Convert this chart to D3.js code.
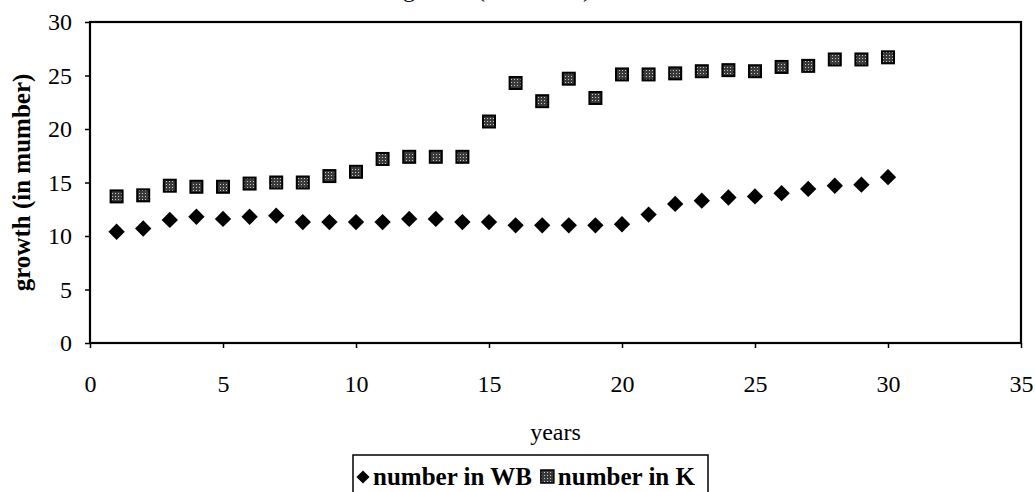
<!DOCTYPE html>
<html>
<head>
<meta charset="utf-8">
<script src="https://cdn.jsdelivr.net/npm/d3@7"></script>
<style>
  body { margin: 0; background: #fff; }
  svg { display: block; }
</style>
</head>
<body>
<div id="chart"></div>
<script>
// chart data
const years = [1, 2, 3, 4, 5, 6, 7, 8, 9, 10, 11, 12, 13, 14, 15,
               16, 17, 18, 19, 20, 21, 22, 23, 24, 25, 26, 27, 28, 29, 30];
const numberWB = [10.4, 10.7, 11.5, 11.8, 11.6, 11.8, 11.9, 11.3, 11.3, 11.3,
                  11.3, 11.6, 11.6, 11.3, 11.3, 11.0, 11.0, 11.0, 11.0, 11.1,
                  12.0, 13.0, 13.3, 13.6, 13.7, 14.0, 14.4, 14.7, 14.8, 15.5];
const numberK = [13.7, 13.8, 14.7, 14.6, 14.6, 14.9, 15.0, 15.0, 15.6, 16.0,
                 17.2, 17.4, 17.4, 17.4, 20.7, 24.3, 22.6, 24.7, 22.9, 25.1,
                 25.1, 25.2, 25.4, 25.5, 25.4, 25.8, 25.9, 26.5, 26.5, 26.7];
const xTicks = [0, 5, 10, 15, 20, 25, 30, 35];
const yTicks = [0, 5, 10, 15, 20, 25, 30];
const seriesNames = ["number in WB", "number in K"];

// size of the page and the plot box
const width = 1035;
const height = 492;
const margin = {left: 90, right: 14, top: 22, bottom: 149};
const serif = "'Liberation Serif', 'Times New Roman', serif";

const svg = d3.select("#chart")
  .append("svg")
  .attr("width", width)
  .attr("height", height)
  .attr("viewBox", [0, 0, width, height]);

// grey speckled fill for the squares
const pat = svg.append("defs").append("pattern")
  .attr("id", "speckle")
  .attr("patternUnits", "userSpaceOnUse")
  .attr("width", 3)
  .attr("height", 3);
pat.append("rect").attr("width", 3).attr("height", 3).attr("fill", "#3a3a3a");
pat.append("rect").attr("x", 1).attr("y", 1).attr("width", 1).attr("height", 1).attr("fill", "#c8c8c8");

// scales
const xScale = d3.scaleLinear()
  .domain([0, 35])
  .range([margin.left, width - margin.right]);

const yScale = d3.scaleLinear()
  .domain([0, 30])
  .range([height - margin.bottom, margin.top]);

// title, mostly cut off by the top edge (only the descenders show)
svg.append("text")
  .attr("x", 497)
  .attr("y", -3)
  .attr("text-anchor", "middle")
  .attr("font-family", serif)
  .attr("font-size", 24)
  .text("growth (in number)");

// y axis
const yAxis = svg.append("g")
  .attr("transform", `translate(${margin.left},0)`)
  .call(d3.axisLeft(yScale).tickValues(yTicks).tickSize(5).tickPadding(13).tickSizeOuter(0));
yAxis.select(".domain").remove();
yAxis.selectAll("text").attr("font-family", serif).attr("font-size", 24).attr("fill", "#000");
yAxis.selectAll("line").attr("stroke", "#000").attr("stroke-width", 1.5);

// x axis
const xAxis = svg.append("g")
  .attr("transform", `translate(0,${height - margin.bottom})`)
  .call(d3.axisBottom(xScale).tickValues(xTicks).tickSize(5).tickPadding(27).tickSizeOuter(0));
xAxis.select(".domain").remove();
xAxis.selectAll("text").attr("font-family", serif).attr("font-size", 24).attr("fill", "#000");
xAxis.selectAll("line").attr("stroke", "#000").attr("stroke-width", 1.5);

// plot frame
svg.append("rect")
  .attr("x", xScale(0))
  .attr("y", yScale(30))
  .attr("width", xScale(35) - xScale(0))
  .attr("height", yScale(0) - yScale(30))
  .attr("fill", "none")
  .attr("stroke", "#000")
  .attr("stroke-width", 2.2);

// axis titles
svg.append("text")
  .attr("x", (xScale(0) + xScale(35)) / 2)
  .attr("y", 440)
  .attr("text-anchor", "middle")
  .attr("font-family", serif)
  .attr("font-size", 24)
  .text("years");

svg.append("text")
  .attr("transform", `translate(30,${(yScale(0) + yScale(30)) / 2}) rotate(-90)`)
  .attr("text-anchor", "middle")
  .attr("font-family", serif)
  .attr("font-weight", "bold")
  .attr("font-size", 25)
  .text("growth (in mumber)");

// markers
const diamond = d3.symbol().type(d3.symbolDiamond2).size(170);

svg.selectAll(".wb")
  .data(years)
  .enter()
  .append("path")
    .attr("class", "wb")
    .attr("d", diamond)
    .attr("transform", (d, i) => `translate(${xScale(d)},${yScale(numberWB[i])})`)
    .attr("fill", "#000");

svg.selectAll(".k")
  .data(years)
  .enter()
  .append("rect")
    .attr("class", "k")
    .attr("x", (d) => xScale(d) - 6)
    .attr("y", (d, i) => yScale(numberK[i]) - 6)
    .attr("width", 12)
    .attr("height", 12)
    .attr("fill", "url(#speckle)")
    .attr("stroke", "#000")
    .attr("stroke-width", 2);

// legend box at the bottom, runs off the page
const legend = svg.append("g");
legend.append("rect")
  .attr("x", 353)
  .attr("y", 455)
  .attr("width", 355)
  .attr("height", 60)
  .attr("fill", "#fff")
  .attr("stroke", "#000")
  .attr("stroke-width", 1.5);

legend.append("path")
  .attr("d", d3.symbol().type(d3.symbolDiamond2).size(110))
  .attr("transform", "translate(363,477)")
  .attr("fill", "#000");

const t1 = legend.append("text")
  .attr("x", 373)
  .attr("y", 485)
  .attr("font-family", serif)
  .attr("font-weight", "bold")
  .attr("font-size", 25)
  .text(seriesNames[0]);

const end1 = t1.node().getComputedTextLength() + 373;

legend.append("rect")
  .attr("x", end1 + 9)
  .attr("y", 470)
  .attr("width", 13)
  .attr("height", 13)
  .attr("fill", "url(#speckle)")
  .attr("stroke", "#000")
  .attr("stroke-width", 1.5);

legend.append("text")
  .attr("x", end1 + 26)
  .attr("y", 485)
  .attr("font-family", serif)
  .attr("font-weight", "bold")
  .attr("font-size", 25)
  .text(seriesNames[1]);
</script>
</body>
</html>
